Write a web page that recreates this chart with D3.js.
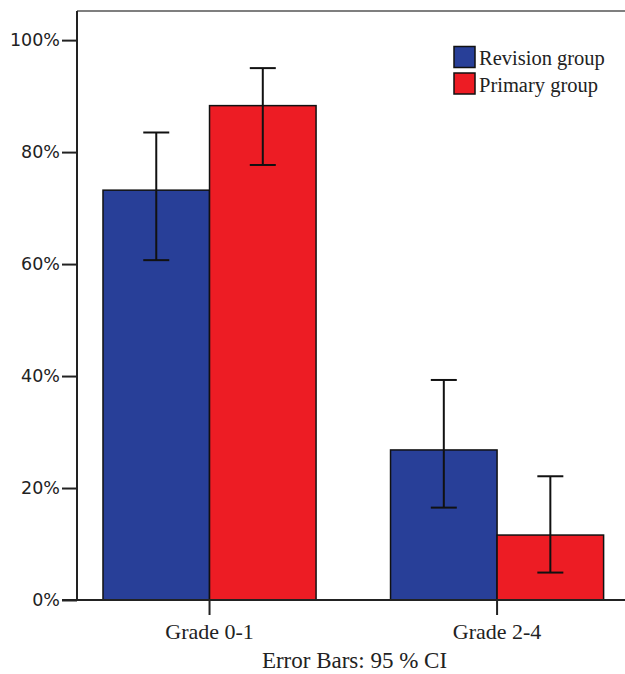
<!DOCTYPE html>
<html><head><meta charset="utf-8">
<script src="https://cdn.jsdelivr.net/npm/d3@7"></script>
<style>body{margin:0;background:#fff}svg{display:block}</style>
</head><body>
<script>
const categories = ["Grade 0-1", "Grade 2-4"];
const groups = ["Revision group", "Primary group"];
const revisionValues = [73.2, 26.8];
const primaryValues = [88.3, 11.6];
const revisionLow = [60.7, 16.5];
const revisionHigh = [83.5, 39.3];
const primaryLow = [77.7, 4.9];
const primaryHigh = [95.0, 22.1];
const yTicks = [0, 20, 40, 60, 80, 100];
const colors = ["#283f98", "#ed1c24"];

const W = 625, H = 674;
const svg = d3.select("body").append("svg").attr("width", W).attr("height", H);

const axisX = 77, plotTop = 11, plotBottom = 600;
const y = d3.scaleLinear().domain([0, 105.2]).range([plotBottom, plotTop]);
const x = d3.scaleBand().domain(categories).range([77, 629.6]).paddingInner(0.259).paddingOuter(0.0904);
const xs = d3.scaleBand().domain(groups).range([0, x.bandwidth()]);

const data = [];
categories.forEach((c, i) => {
  data.push({cat: c, g: groups[0], v: revisionValues[i], lo: revisionLow[i], hi: revisionHigh[i], col: colors[0]});
  data.push({cat: c, g: groups[1], v: primaryValues[i], lo: primaryLow[i], hi: primaryHigh[i], col: colors[1]});
});

// top border
svg.append("line").attr("x1", axisX).attr("x2", W).attr("y1", plotTop).attr("y2", plotTop)
  .attr("stroke", "#555").attr("stroke-width", 1.5);

// bars
svg.selectAll("rect.bar").data(data).join("rect").attr("class", "bar")
  .attr("x", d => x(d.cat) + xs(d.g))
  .attr("width", xs.bandwidth())
  .attr("y", d => y(d.v))
  .attr("height", d => y(0) - y(d.v))
  .attr("fill", d => d.col)
  .attr("stroke", "#111").attr("stroke-width", 1.5);

// error bars
const eb = svg.selectAll("g.eb").data(data).join("g").attr("class", "eb")
  .attr("transform", d => `translate(${x(d.cat) + xs(d.g) + xs.bandwidth() / 2},0)`);
eb.append("line").attr("x1", 0).attr("x2", 0).attr("y1", d => y(d.lo)).attr("y2", d => y(d.hi))
  .attr("stroke", "#111").attr("stroke-width", 2);
eb.append("line").attr("x1", -13).attr("x2", 13).attr("y1", d => y(d.lo)).attr("y2", d => y(d.lo))
  .attr("stroke", "#111").attr("stroke-width", 2);
eb.append("line").attr("x1", -13).attr("x2", 13).attr("y1", d => y(d.hi)).attr("y2", d => y(d.hi))
  .attr("stroke", "#111").attr("stroke-width", 2);

// y axis
const yAxis = svg.append("g").attr("transform", `translate(${axisX},0)`)
  .call(d3.axisLeft(y).tickValues(yTicks).tickFormat(d => d + "%").tickSize(15).tickPadding(2).tickSizeOuter(0));
yAxis.select(".domain").remove();
yAxis.append("line").attr("x1", 0).attr("x2", 0).attr("y1", plotTop).attr("y2", plotBottom)
  .attr("stroke", "#222").attr("stroke-width", 2);
yAxis.selectAll(".tick line").attr("stroke", "#222").attr("stroke-width", 2);
yAxis.selectAll(".tick text").attr("font-family", "DejaVu Sans").attr("font-size", 17.5).attr("fill", "#222");

// x axis
const xAxis = svg.append("g").attr("transform", `translate(0,${plotBottom})`)
  .call(d3.axisBottom(x).tickSize(15).tickPadding(8).tickSizeOuter(0));
xAxis.select(".domain").remove();
xAxis.append("line").attr("x1", axisX - 15).attr("x2", W).attr("y1", 0).attr("y2", 0)
  .attr("stroke", "#222").attr("stroke-width", 2);
xAxis.selectAll(".tick line").attr("stroke", "#222").attr("stroke-width", 2);
xAxis.selectAll(".tick text").attr("font-family", "Liberation Serif").attr("font-size", 22).attr("fill", "#222");

// caption
svg.append("text").attr("x", 354.5).attr("y", 668).attr("text-anchor", "middle")
  .attr("font-family", "Liberation Serif").attr("font-size", 23).attr("fill", "#222")
  .text("Error Bars: 95 % CI");

// legend
const lg = svg.append("g").attr("transform", "translate(454,46.5)");
groups.forEach((g, i) => {
  lg.append("rect").attr("x", 0).attr("y", i * 26.5).attr("width", 21).attr("height", 21)
    .attr("fill", colors[i]).attr("stroke", "#111").attr("stroke-width", 1.5);
  lg.append("text").attr("x", 25).attr("y", i * 26.5 + 18.5)
    .attr("font-family", "Liberation Serif").attr("font-size", 20.5).attr("fill", "#222").text(g);
});
</script>
</body></html>
